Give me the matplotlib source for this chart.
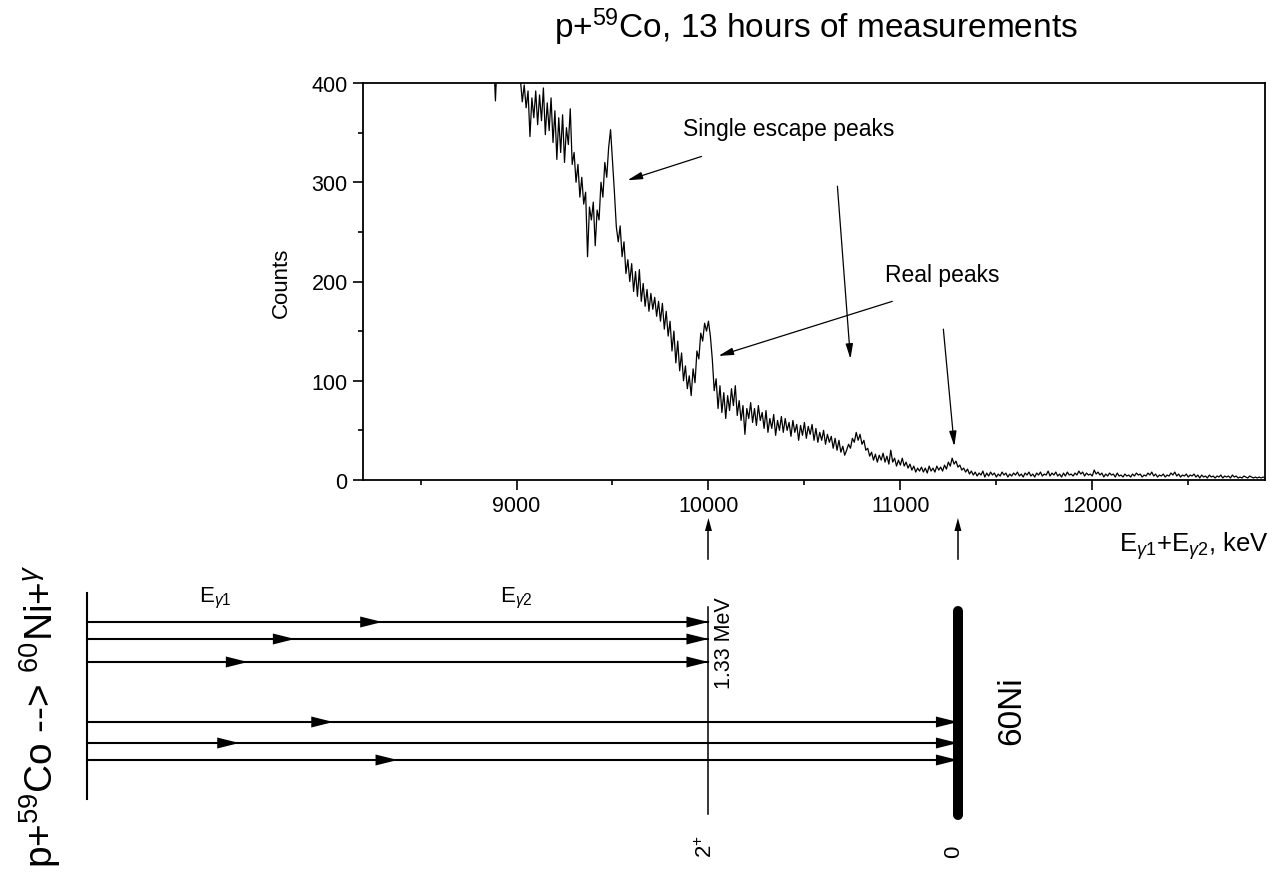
import numpy as np
import matplotlib
matplotlib.use('Agg')
import matplotlib.pyplot as plt
from matplotlib.ticker import MultipleLocator

plt.rcParams['font.family'] = ['Liberation Sans', 'DejaVu Sans']
plt.rcParams['mathtext.fontset'] = 'custom'
plt.rcParams['mathtext.rm'] = 'Liberation Sans'
plt.rcParams['mathtext.it'] = 'Liberation Sans:italic'
plt.rcParams['mathtext.bf'] = 'Liberation Sans:bold'

# summed spectrum, counts per 10 keV channel starting at 8880 keV
counts = [
    430, 382, 428, 445, 450, 440, 455, 445, 440, 435,
    430, 425, 420, 410, 404, 381, 398, 375, 392, 346,
    385, 365, 392, 358, 388, 362, 395, 348, 380, 352,
    385, 340, 372, 323, 365, 330, 368, 320, 355, 338,
    374, 318, 330, 300, 318, 285, 305, 278, 290, 225,
    275, 262, 280, 236, 272, 262, 300, 285, 320, 305,
    335, 353, 322, 290, 255, 240, 256, 225, 240, 208,
    222, 200, 218, 190, 210, 185, 212, 180, 198, 175,
    192, 170, 188, 172, 184, 165, 180, 160, 178, 152,
    170, 145, 160, 130, 150, 118, 140, 110, 128, 100,
    115, 92, 105, 85, 112, 98, 130, 122, 148, 140,
    158, 150, 160, 145, 122, 90, 102, 72, 95, 68,
    88, 62, 85, 70, 92, 75, 95, 65, 80, 60,
    75, 46, 72, 62, 78, 58, 72, 55, 75, 60,
    68, 52, 70, 48, 62, 52, 66, 45, 60, 50,
    64, 48, 62, 50, 58, 44, 60, 48, 56, 40,
    55, 45, 58, 42, 54, 46, 56, 40, 52, 38,
    48, 40, 50, 36, 46, 38, 44, 32, 42, 30,
    40, 28, 34, 25, 30, 36, 32, 42, 38, 48,
    40, 46, 36, 40, 30, 32, 24, 28, 20, 26,
    18, 25, 20, 27, 18, 24, 16, 30, 18, 22,
    14, 20, 15, 22, 14, 18, 12, 16, 10, 14,
    8, 12, 9, 13, 8, 12, 7, 14, 9, 12,
    8, 14, 10, 13, 9, 15, 11, 18, 14, 22,
    16, 19, 13, 15, 10, 12, 8, 11, 6, 9,
    5, 8, 4, 7, 5, 9, 3, 7, 4, 8,
    5, 7, 3, 6, 4, 8, 5, 7, 3, 6,
    4, 7, 5, 8, 4, 6, 3, 7, 5, 8,
    4, 6, 3, 7, 5, 8, 4, 6, 5, 9,
    4, 7, 5, 8, 4, 6, 3, 7, 4, 8,
    5, 6, 4, 7, 5, 9, 6, 8, 4, 7,
    5, 6, 4, 10, 6, 8, 5, 7, 3, 6,
    4, 7, 5, 6, 3, 7, 4, 5, 3, 6,
    4, 5, 3, 6, 4, 7, 5, 6, 3, 5,
    4, 7, 5, 8, 4, 6, 3, 5, 4, 6,
    3, 5, 4, 7, 5, 8, 4, 6, 3, 5,
    4, 6, 3, 5, 4, 6, 3, 5, 2, 5,
    3, 4, 2, 5, 3, 4, 2, 4, 3, 5,
    2, 4, 3, 4, 2, 5, 3, 4, 2, 3,
    2, 4, 3, 2, 4, 3, 2, 3, 2, 3,
    2, 3, 2,
]
energy = 8880 + 10 * np.arange(len(counts))

# arrows in the spectrum: (tail x, tail y, head x, head y)
escape_arrows = [(9964, 326, 9578, 302), (10672, 296, 10740, 122)]
real_arrows = [(10958, 180, 10052, 125), (11224, 152, 11281, 34)]

# level scheme (x in keV of the summed energy)
start_energy = 6760
level_2plus = 10000
level_gs = 11300
feed_2plus_rows = [623, 640, 663]
feed_2plus_mid = [8300, 7845, 7600]
feed_gs_rows = [723, 744, 761]
feed_gs_mid = [8045, 7555, 8380]

W, H = 1278, 878
fig = plt.figure(figsize=(W / 100, H / 100), dpi=100)
ax_l, ax_r, ax_t, ax_b = 363, 1265, 84, 481
ax = fig.add_axes([ax_l / W, 1 - ax_b / H, (ax_r - ax_l) / W, (ax_b - ax_t) / H])

ax.plot(energy, counts, color='black', lw=0.9)
ax.set_xlim(8200, 12900)
ax.set_ylim(0, 400)
ax.xaxis.set_major_locator(MultipleLocator(1000))
ax.xaxis.set_minor_locator(MultipleLocator(500))
ax.yaxis.set_major_locator(MultipleLocator(100))
ax.yaxis.set_minor_locator(MultipleLocator(50))
ax.tick_params(which='major', length=7, width=1.2, labelsize=15.5, direction='out', pad=4)
ax.tick_params(which='minor', length=3.6, width=1.2, direction='out')
for s in ax.spines.values():
    s.set_linewidth(1.3)
ax.set_ylabel('Counts', fontsize=16, labelpad=14)

arrow_kw = dict(arrowstyle='-|>,head_length=0.9,head_width=0.22', color='black',
                lw=0.9, shrinkA=0, shrinkB=0, mutation_scale=10)
ax.text(10417, 348, 'Single escape peaks', fontsize=16.5, ha='center', va='baseline')
for x0, y0, x1, y1 in escape_arrows:
    ax.annotate('', xy=(x1, y1), xytext=(x0, y0), arrowprops=arrow_kw)
ax.text(11219, 200, 'Real peaks', fontsize=16.5, ha='center', va='baseline')
for x0, y0, x1, y1 in real_arrows:
    ax.annotate('', xy=(x1, y1), xytext=(x0, y0), arrowprops=arrow_kw)

fig.text(816 / W, 1 - 38 / H, r'p+$^{59}$Co, 13 hours of measurements',
         fontsize=24, ha='center', va='baseline')
fig.text(1194 / W, 1 - 546 / H, r'E$_{\gamma1}$+E$_{\gamma2}$, keV',
         fontsize=18.5, ha='center', va='center')

# overlay axes for the level scheme, same keV scale as the spectrum
x0, x1 = ax.get_xlim()
span = (x1 - x0) / ((ax_r - ax_l) / W)
left = x0 - (ax_l / W) * span
dg = fig.add_axes([0, 0, 1, 1])
dg.set_xlim(left, left + span)
dg.set_ylim(H, 0)
dg.axis('off')
kev_px = span / W

def head(xt, y, length=22, half=5.5):
    L = length * kev_px
    dg.fill([xt - L, xt, xt - L], [y - half, y, y + half], color='black', lw=0)

dg.plot([start_energy, start_energy], [594, 800], color='black', lw=1.5)
for rows, mids, end in [(feed_2plus_rows, feed_2plus_mid, level_2plus),
                        (feed_gs_rows, feed_gs_mid, level_gs)]:
    for r, m in zip(rows, mids):
        dg.plot([start_energy, end], [r, r], color='black', lw=1.5)
        head(m, r)
        head(end, r)

dg.plot([level_2plus, level_2plus], [608, 815], color='black', lw=1.1)
dg.plot([level_gs, level_gs], [612, 816], color='black', lw=7.2, solid_capstyle='round')

# links from spectrum to levels
for e in [level_2plus, level_gs]:
    dg.plot([e, e], [560, 528], color='black', lw=1.1)
    dg.fill([e - 3.5 * kev_px, e, e + 3.5 * kev_px], [532, 519, 532], color='black', lw=0)

dg.text(7430, 598, r'E$_{\gamma1}$', fontsize=16, ha='center', va='center')
dg.text(9000, 598, r'E$_{\gamma2}$', fontsize=16, ha='center', va='center')
dg.text(level_2plus + 16 * kev_px, 643, '1.33 MeV', fontsize=15.5, rotation=90,
        ha='center', va='center')
dg.text(level_gs + 54 * kev_px, 711, '60Ni', fontsize=24, rotation=90,
        ha='center', va='center')
dg.text(level_2plus - 2 * kev_px, 847, r'2$^{+}$', fontsize=16, rotation=90,
        ha='center', va='center')
dg.text(level_gs - 4 * kev_px, 852, '0', fontsize=16, rotation=90,
        ha='center', va='center')
dg.text(start_energy - 47 * kev_px, 716, r'p+$^{59}$Co --> $^{60}$Ni+$^{\gamma}$',
        fontsize=28, rotation=90, ha='center', va='center')

fig.savefig('out.png', dpi=100)
